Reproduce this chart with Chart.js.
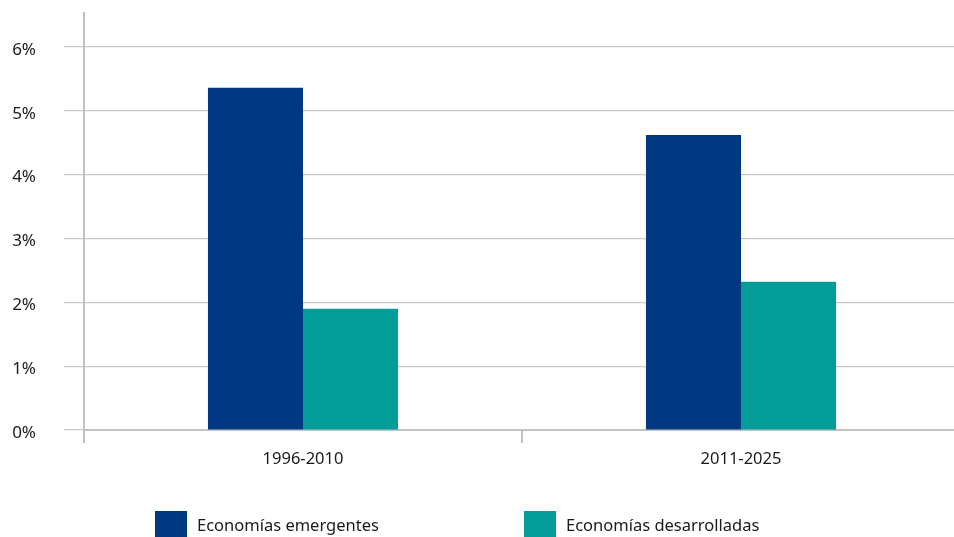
<!DOCTYPE html>
<html>
<head>
<meta charset="utf-8">
<script src="https://cdn.jsdelivr.net/npm/chart.js@4.4.1/dist/chart.umd.min.js"></script>
<style>
  html, body { margin: 0; padding: 0; background: #fff; overflow: hidden; }
  canvas { display: block; }
</style>
</head>
<body>
<canvas id="growthChart" width="962" height="537"></canvas>
<script>
const periodos = ['1996-2010', '2011-2025'];
const emergentes = [5.36, 4.62];
const desarrolladas = [1.90, 2.32];
const ticksY = [0, 1, 2, 3, 4, 5, 6];

const FONT = '"Noto Sans", sans-serif';

// leyenda dibujada a mano abajo (cuadros grandes, separacion amplia)
const bottomLegend = {
  id: 'bottomLegend',
  afterDraw(chart) {
    const ctx = chart.ctx;
    const starts = [155, 524];
    ctx.save();
    ctx.font = '16.5px ' + FONT;
    ctx.textBaseline = 'middle';
    ctx.textAlign = 'left';
    chart.data.datasets.forEach((ds, i) => {
      const x = starts[i];
      ctx.fillStyle = ds.backgroundColor;
      ctx.fillRect(x, 511, 32, 27);
      ctx.fillStyle = '#1a1a1a';
      ctx.fillText(ds.label, x + 42, 526);
    });
    ctx.restore();
  }
};

const ctx = document.getElementById('growthChart').getContext('2d');
new Chart(ctx, {
  type: 'bar',
  data: {
    labels: periodos,
    datasets: [{
      label: 'Economías emergentes',
      data: emergentes,
      backgroundColor: '#003881',
    }, {
      label: 'Economías desarrolladas',
      data: desarrolladas,
      backgroundColor: '#039c99',
    }]
  },
  options: {
    responsive: false,
    animation: false,
    devicePixelRatio: 1,
    layout: { padding: { top: 13, right: 2, left: 0, bottom: 0 } },
    datasets: {
      bar: { barPercentage: 1, categoryPercentage: 0.434 }
    },
    plugins: {
      legend: { display: false },
      tooltip: { enabled: false }
    },
    scales: {
      x: {
        grid: {
          drawOnChartArea: false,
          drawTicks: true,
          tickLength: 13,
          color: '#c2c2c2',
          lineWidth: 2
        },
        border: { display: true, color: '#c2c2c2', width: 2 },
        ticks: {
          color: '#1a1a1a',
          font: { family: FONT, size: 16.5 },
          padding: 6
        },
        afterFit: (s) => { s.height = 107; s.paddingLeft = 0; s.paddingRight = 0; }
      },
      y: {
        min: 0,
        max: 6.53,
        afterBuildTicks: (s) => { s.ticks = ticksY.map(v => ({ value: v })); },
        grid: {
          color: '#c6c6c6',
          lineWidth: 1.2,
          tickLength: 20
        },
        border: { display: true, color: '#c2c2c2', width: 2 },
        ticks: {
          color: '#1a1a1a',
          font: { family: FONT, size: 17 },
          padding: 28,
          labelOffset: 3,
          callback: (v) => v + '%'
        },
        afterFit: (s) => { s.width = 84; s.paddingTop = 0; s.paddingBottom = 0; }
      }
    }
  },
  plugins: [bottomLegend]
});
</script>
</body>
</html>
